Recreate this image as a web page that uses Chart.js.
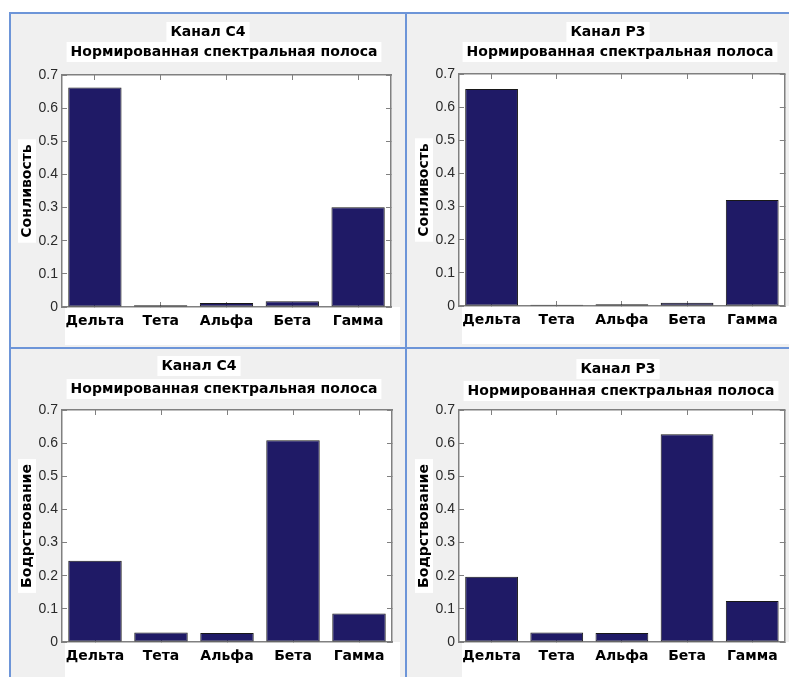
<!DOCTYPE html>
<html>
<head>
<meta charset="utf-8">
<script src="https://cdn.jsdelivr.net/npm/chart.js@4.4.1/dist/chart.umd.min.js"></script>
<style>
  html, body { margin: 0; padding: 0; background: #ffffff; }
  #page { position: relative; width: 789px; height: 677px; overflow: hidden; }
  canvas { position: absolute; }
  .rule { position: absolute; background: #6d95d8; z-index: 5; }
</style>
</head>
<body>
<div id="page">
  <canvas id="c0" width="396" height="335" style="left:10px;top:13px"></canvas>
  <canvas id="c1" width="382" height="335" style="left:407px;top:13px"></canvas>
  <canvas id="c2" width="396" height="328" style="left:10px;top:349px"></canvas>
  <canvas id="c3" width="382" height="328" style="left:407px;top:349px"></canvas>
  <div class="rule" style="left:9px;top:12px;width:780px;height:2px"></div>
  <div class="rule" style="left:9px;top:12px;width:2px;height:665px"></div>
  <div class="rule" style="left:405px;top:12px;width:2px;height:665px"></div>
  <div class="rule" style="left:9px;top:347px;width:780px;height:2px"></div>
</div>
<script>
// categories and tick labels
const bands = ['Дельта', 'Тета', 'Альфа', 'Бета', 'Гамма'];
const yTickLabels = ['0', '0.1', '0.2', '0.3', '0.4', '0.5', '0.6', '0.7'];

// values
const sleepC4 = [0.662, 0.005, 0.012, 0.017, 0.301];
const sleepP3 = [0.655, 0.004, 0.005, 0.010, 0.320];
const wakeC4  = [0.245, 0.029, 0.027, 0.609, 0.086];
const wakeP3  = [0.197, 0.029, 0.027, 0.627, 0.124];

const channels = ['Канал C4', 'Канал P3'];
const subTitle = 'Нормированная спектральная полоса';
const states = ['Сонливость', 'Бодрствование'];

const BAR = '#1f1a66';
const FRAME = '#808080';

// gray panel, white patches behind plot, titles and labels (collage look)
const backdrop = {
  id: 'backdrop',
  beforeDraw(chart, args, opts) {
    const { ctx, chartArea: a, width, height } = chart;
    ctx.save();
    ctx.fillStyle = '#f0f0f0';
    ctx.fillRect(0, 0, width, height);
    ctx.fillStyle = '#ffffff';
    ctx.fillRect(a.left, a.top, a.right - a.left, a.bottom - a.top);
    ctx.fillRect(a.left + 3, a.bottom, width - a.left - 3 - opts.bandGap, opts.bandHeight);

    ctx.font = 'bold 14px "DejaVu Sans"';
    ctx.textAlign = 'center';
    ctx.textBaseline = 'middle';
    opts.titles.forEach(t => {
      const w = ctx.measureText(t.text).width;
      ctx.fillStyle = '#ffffff';
      ctx.fillRect(t.x - w / 2 - 4, t.y - 10, w + 8, 20);
      ctx.fillStyle = '#000000';
      ctx.fillText(t.text, t.x, t.y);
    });

    // box behind the y axis title
    const tw = ctx.measureText(opts.yTitle).width;
    const cy = (a.top + a.bottom) / 2;
    ctx.fillStyle = '#ffffff';
    ctx.fillRect(8, cy - tw / 2 - 5, 18, tw + 10);
    ctx.restore();
  }
};

function makeChart(id, values, channel, state, geo) {
  const canvas = document.getElementById(id);
  const H = canvas.height, W = canvas.width;
  const gridOpts = { offset: false, drawOnChartArea: false, drawTicks: true, tickLength: -5, color: FRAME, lineWidth: 1 };
  const borderOpts = { color: FRAME, width: 1.5 };
  return new Chart(canvas, {
    type: 'bar',
    data: {
      labels: bands,
      datasets: [{
        data: values,
        backgroundColor: BAR,
        borderColor: '#181818',
        borderWidth: 1,
        borderSkipped: false,
        barPercentage: 0.81,
        categoryPercentage: 1.0
      }]
    },
    options: {
      responsive: false,
      animation: false,
      layout: { padding: { top: geo.top, right: W - geo.right, left: 0, bottom: 0 } },
      plugins: {
        legend: { display: false },
        tooltip: { enabled: false },
        backdrop: {
          titles: [
            { text: channel, x: geo.t1x, y: geo.t1y },
            { text: subTitle, x: geo.t2x, y: geo.t2y }
          ],
          yTitle: state,
          bandHeight: geo.band,
          bandGap: geo.bandGap
        }
      },
      scales: {
        x: {
          position: 'bottom',
          offset: true,
          grid: gridOpts,
          border: borderOpts,
          ticks: {
            autoSkip: false, maxRotation: 0, padding: 11,
            color: '#000000',
            font: { family: '"DejaVu Sans"', size: 14, weight: 'bold' }
          },
          afterFit: s => { s.height = H - geo.bottom; }
        },
        x2: {
          type: 'category',
          position: 'top',
          offset: true,
          grid: gridOpts,
          border: borderOpts,
          ticks: { display: false },
          afterFit: s => { s.height = 0; }
        },
        y: {
          min: 0, max: 0.7,
          grid: gridOpts,
          border: borderOpts,
          ticks: {
            stepSize: 0.1, padding: 9,
            color: '#2a2a2a',
            font: { family: '"Liberation Sans"', size: 14 },
            callback: (v, i) => yTickLabels[i]
          },
          title: {
            display: true, text: state, color: '#000000',
            font: { family: '"DejaVu Sans"', size: 14, weight: 'bold' },
            padding: { top: 9, bottom: 0 }
          },
          afterFit: s => { s.width = geo.left; }
        },
        y2: {
          position: 'right',
          min: 0, max: 0.7,
          grid: gridOpts,
          border: borderOpts,
          ticks: { display: false, stepSize: 0.1 },
          afterFit: s => { s.width = 0; }
        }
      }
    },
    plugins: [backdrop]
  });
}

makeChart('c0', sleepC4, channels[0], states[0],
  { left: 52, top: 62, right: 381, bottom: 294, t1x: 198, t1y: 19, t2x: 214, t2y: 39, band: 38, bandGap: 6 });
makeChart('c1', sleepP3, channels[1], states[0],
  { left: 52, top: 61, right: 379, bottom: 293, t1x: 201, t1y: 19, t2x: 213, t2y: 39, band: 38, bandGap: 0 });
makeChart('c2', wakeC4, channels[0], states[1],
  { left: 52, top: 61, right: 382, bottom: 293, t1x: 189, t1y: 17, t2x: 214, t2y: 40, band: 40, bandGap: 6 });
makeChart('c3', wakeP3, channels[1], states[1],
  { left: 52, top: 61, right: 379, bottom: 293, t1x: 211, t1y: 20, t2x: 214, t2y: 42, band: 40, bandGap: 0 });
</script>
</body>
</html>
